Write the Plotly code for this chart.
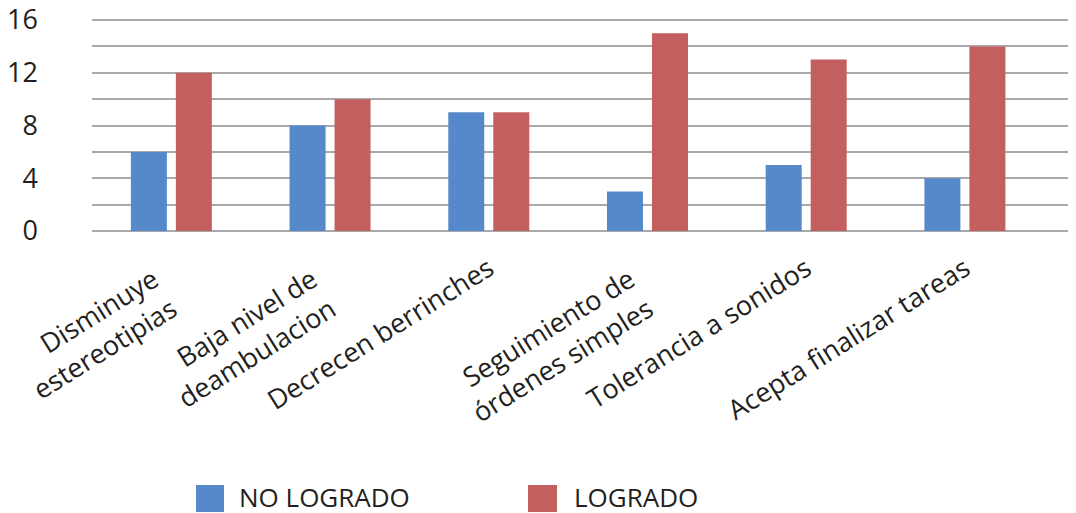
import plotly.graph_objects as go

NB = "\u00a0"
categories = [
    "Disminuye" + NB * 3 + "<br>estereotipias" + NB * 3,
    "Baja nivel de" + NB * 3 + "<br>deambulacion" + NB * 3,
    "Decrecen berrinches",
    "Seguimiento de" + NB * 3 + "<br>órdenes simples" + NB * 3,
    "Tolerancia a sonidos",
    "Acepta finalizar tareas",
]
no_logrado = [6, 8, 9, 3, 5, 4]
logrado = [12, 10, 9, 15, 13, 14]
series_names = ["NO LOGRADO", "LOGRADO"]
colors = ["#5589C9", "#C45F5F"]
y_ticks = [0, 4, 8, 12, 16]

FONT = "Open Sans"
TXT = "#231f20"
GRID = "#a9a9ad"

W, H = 1068, 505
L, T, B = 84, 10, 282
PW = W - L
PH = H - T - B          # 213 px; 16 units occupy 211 px
Y_TOP = 16 * PH / 211


def px_x(p):
    return (p - L) / PW


def px_y(p):
    return (H - B - p) / PH


fig = go.Figure()
for vals, name, col in zip([no_logrado, logrado], series_names, colors):
    fig.add_trace(go.Bar(x=categories, y=vals, name=name, showlegend=False,
                         marker=dict(color=col, line=dict(width=0))))

# manual legend (large square swatches like the reference)
legend_x = [(188, 216, 229), (520, 549, 564)]
shapes, annotations = [], []
for (sx0, sx1, tx), name, col in zip(legend_x, series_names, colors):
    shapes.append(dict(type="rect", xref="paper", yref="paper",
                       x0=px_x(sx0), x1=px_x(sx1), y0=px_y(504), y1=px_y(477),
                       fillcolor=col, line=dict(width=0)))
    annotations.append(dict(xref="paper", yref="paper", x=px_x(tx), y=px_y(489),
                            xanchor="left", yanchor="middle", showarrow=False,
                            text=name, font=dict(family=FONT, size=26, color=TXT)))

fig.update_layout(
    width=W, height=H,
    margin=dict(l=L, r=0, t=T, b=B, autoexpand=False),
    paper_bgcolor="white", plot_bgcolor="white",
    barmode="group", bargap=0.433, bargroupgap=0.2,
    font=dict(family=FONT, size=27, color=TXT),
    showlegend=False,
    shapes=shapes, annotations=annotations,
)
fig.update_xaxes(
    range=[-0.5, 5.7],
    tickangle=-32, showgrid=False, showline=False, zeroline=False,
    ticks="", ticklabelstandoff=16, automargin=False, ticklabeloverflow="allow",
    tickfont=dict(family=FONT, size=27, color=TXT),
)
fig.update_yaxes(
    range=[0, Y_TOP], tickvals=y_ticks, showgrid=True, gridcolor=GRID, gridwidth=2,
    zeroline=True, zerolinecolor=GRID, zerolinewidth=2, showline=False,
    ticks="", ticklabelstandoff=53, automargin=False, ticklabeloverflow="allow",
    tickfont=dict(family=FONT, size=27, color=TXT),
    minor=dict(dtick=2, showgrid=True, gridcolor=GRID, gridwidth=2),
)

fig.write_html("out.html")
